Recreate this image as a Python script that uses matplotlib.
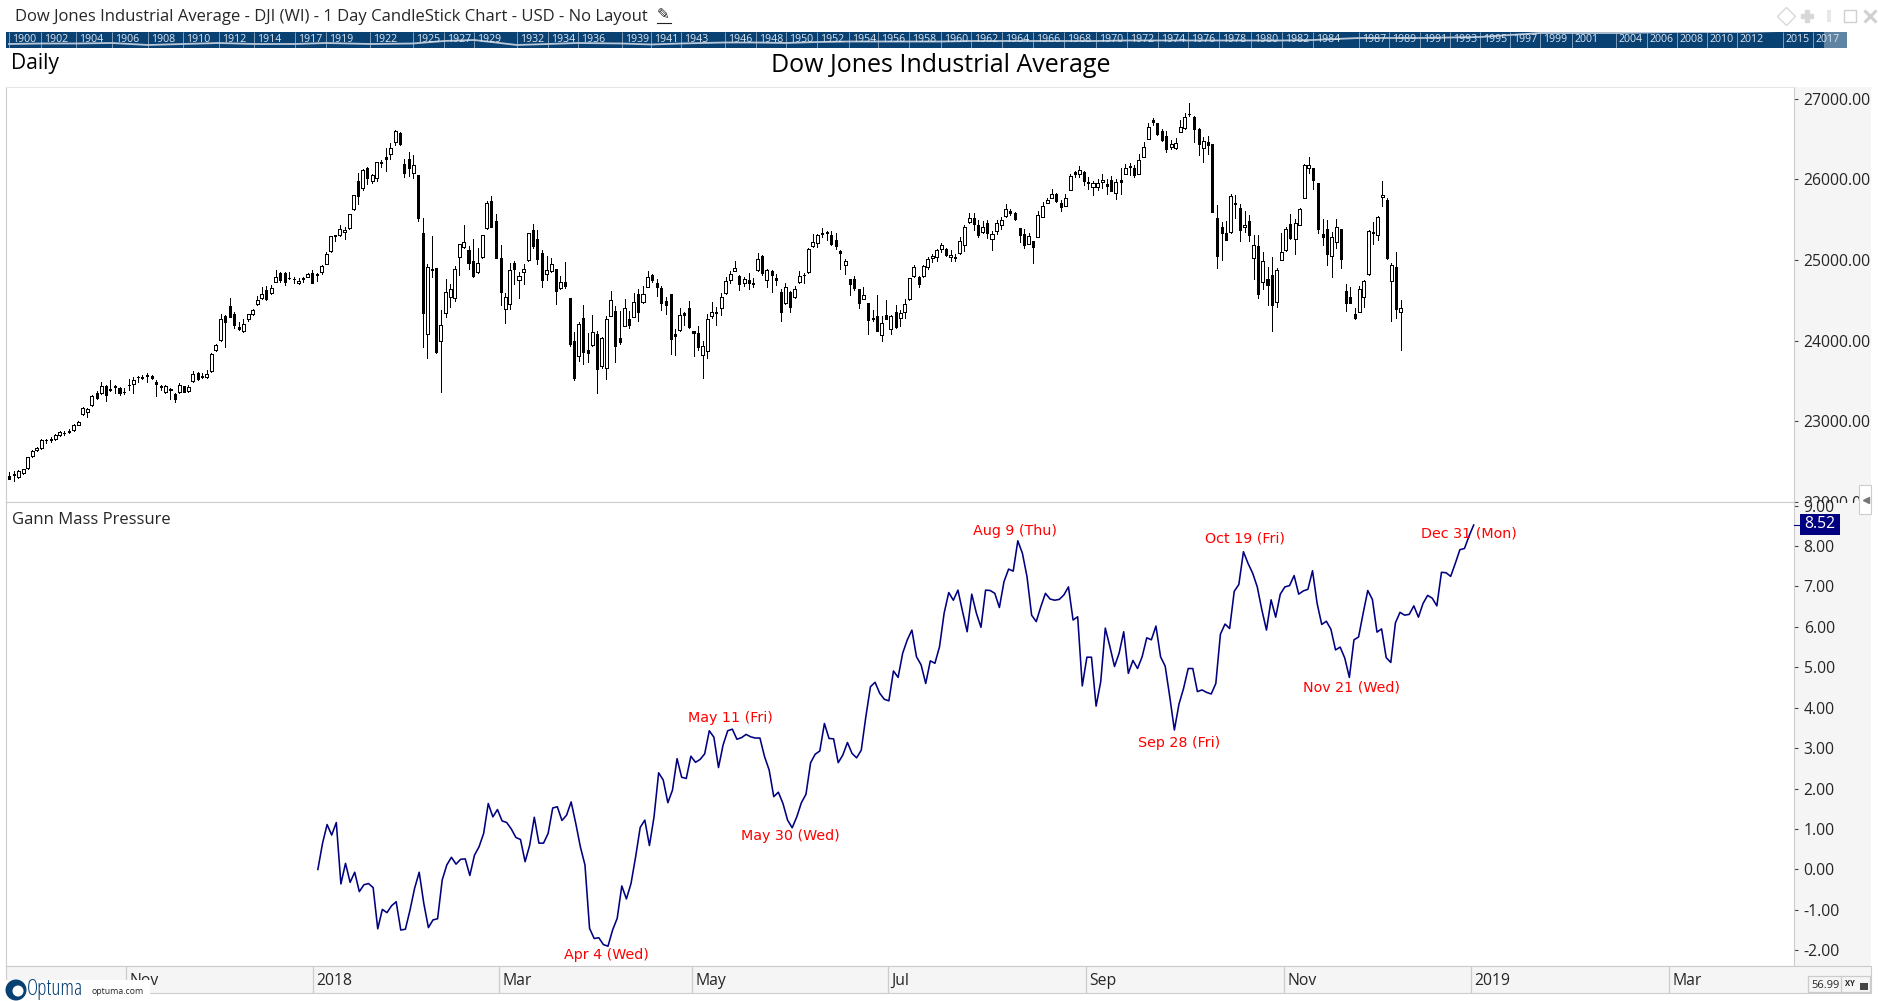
#! /usr/bin/env python3

import numpy as np
import matplotlib
matplotlib.use("Agg")
import matplotlib.pyplot as plt
from matplotlib.patches import Rectangle, Circle

W, H = 1878, 1001

opens = [
 22318, 22343, 22302, 22351, 22413, 22562, 22637, 22662, 22769, 22774, 22782, 22823, 22856, 22873, 22885, 22951,
 23088, 23109, 23196, 23345, 23345, 23436, 23394, 23436, 23411, 23366, 23452, 23457, 23552, 23548, 23572, 23560,
 23486, 23436, 23357, 23382, 23336, 23357, 23432, 23370, 23494, 23593, 23560, 23544, 23618, 23879, 24003, 24305,
 24425, 24330, 24165, 24115, 24264, 24334, 24450, 24525, 24624, 24587, 24732, 24835, 24835, 24781, 24769, 24711,
 24773, 24794, 24843, 24823, 24848, 24955, 25108, 25307, 25307, 25344, 25394, 25630, 25982, 25899, 26139, 25978,
 26015, 26218, 26276, 26313, 26462, 26578, 26193, 26259, 26077, 26052, 25332, 24078, 24889, 24897, 23991, 24338,
 24537, 24533, 25042, 25158, 25125, 24984, 24848, 25042, 25394, 25729, 25481, 25022, 24388, 24458, 24959, 24748,
 24848, 24997, 25369, 25257, 25084, 24831, 24868, 24885, 24649, 24723, 24525, 23991, 23813, 24276, 23879, 23941,
 24078, 23688, 23655, 24309, 24363, 24028, 24185, 24264, 24297, 24574, 24475, 24670, 24810, 24715, 24653, 24487,
 24574, 24078, 24127, 24338, 24400, 24115, 24094, 23825, 23866, 24309, 24351, 24400, 24587, 24748, 24868, 24806,
 24719, 24748, 24715, 24872, 25050, 24748, 24868, 24777, 24599, 24463, 24608, 24537, 24723, 24819, 24848, 25179,
 25208, 25332, 25349, 25315, 25245, 25113, 24935, 24761, 24761, 24636, 24521, 24463, 24280, 24301, 24065, 24314,
 24148, 24351, 24276, 24351, 24512, 24798, 24790, 24798, 24918, 25022, 25034, 25133, 25133, 25034, 25034, 25084,
 25183, 25469, 25518, 25431, 25344, 25456, 25258, 25357, 25431, 25543, 25605, 25580, 25394, 25320, 25204, 25233,
 25291, 25539, 25713, 25775, 25816, 25705, 25676, 25874, 26090, 26073, 26094, 25970, 25912, 25912, 25965, 25945,
 25994, 25837, 25994, 26073, 26168, 26148, 26073, 26284, 26508, 26735, 26698, 26603, 26541, 26408, 26396, 26595,
 26644, 26818, 26773, 26624, 26396, 26466, 26437, 25518, 25406, 25332, 25344, 25705, 25642, 25415, 25481, 25030,
 25171, 24732, 24765, 24810, 24475, 25005, 25129, 25444, 25258, 25440, 25775, 26139, 26139, 25953, 25320, 25382,
 25055, 25228, 25382, 24612, 24537, 24326, 24359, 24545, 24823, 25344, 25307, 25779, 25742, 24736, 24910, 24351,
]
highs = [
 22368, 22384, 22393, 22409, 22558, 22641, 22682, 22774, 22778, 22798, 22840, 22873, 22881, 22898, 22964, 22997, 23171,
 23158, 23324, 23374, 23486, 23452, 23510, 23448, 23428, 23407, 23519, 23544, 23560, 23568, 23593, 23572, 23510,
 23448, 23448, 23407, 23353, 23477, 23440, 23452, 23626, 23606, 23593, 23635, 23842, 23957, 24330, 24318, 24529,
 24355, 24235, 24264, 24334, 24388, 24554, 24665, 24674, 24686, 24877, 24852, 24848, 24852, 24785, 24781, 24794,
 24843, 24877, 24843, 24939, 25096, 25303, 25311, 25431, 25415, 25572, 25808, 26077, 26127, 26152, 26069, 26218,
 26243, 26396, 26450, 26615, 26595, 26251, 26342, 26301, 26056, 25522, 24951, 25299, 24906, 24380, 24765, 24703,
 24926, 25200, 25435, 25175, 25262, 25150, 25311, 25734, 25796, 25572, 25187, 24595, 24959, 24984, 24852, 24951,
 25336, 25448, 25373, 25125, 25051, 25022, 24893, 24798, 24976, 24529, 24107, 24235, 24442, 24098, 24318, 24119,
 24040, 24305, 24612, 24425, 24367, 24512, 24367, 24591, 24637, 24678, 24860, 24827, 24765, 24674, 24541, 24579,
 24144, 24400, 24355, 24492, 24119, 24181, 23991, 24326, 24479, 24417, 24587, 24785, 24860, 24984, 24810, 24794,
 24839, 24777, 25084, 25059, 24885, 24877, 24827, 24637, 24715, 24612, 24678, 24860, 24835, 25146, 25320, 25320,
 25398, 25361, 25361, 25332, 25125, 25013, 24765, 24802, 24641, 24665, 24467, 24380, 24562, 24305, 24504, 24314,
 24442, 24380, 24516, 24777, 24939, 24806, 24939, 25034, 25075, 25142, 25208, 25146, 25125, 25075, 25286, 25431,
 25585, 25580, 25493, 25485, 25498, 25365, 25493, 25535, 25696, 25630, 25597, 25394, 25382, 25332, 25237, 25605,
 25721, 25767, 25883, 25829, 25746, 25816, 26069, 26110, 26168, 26102, 26032, 25982, 26003, 26069, 26007, 26044,
 26003, 26139, 26189, 26201, 26177, 26313, 26462, 26698, 26764, 26707, 26624, 26599, 26491, 26516, 26740, 26822,
 26951, 26789, 26644, 26524, 26541, 26441, 25680, 25473, 25481, 25816, 25804, 25696, 25605, 25556, 25311, 25307,
 25096, 24910, 25034, 24897, 25332, 25406, 25572, 25506, 25642, 26189, 26280, 26148, 25961, 25506, 25493, 25349,
 25506, 25382, 24703, 24665, 24400, 24678, 24748, 25369, 25473, 25543, 25982, 25767, 24959, 25096, 24504,
]
lows = [
 22285, 22260, 22293, 22343, 22409, 22558, 22633, 22658, 22732, 22740, 22765, 22819, 22823, 22856, 22877, 22947,
 23080, 23055, 23192, 23274, 23341, 23250, 23378, 23353, 23324, 23336, 23386, 23353, 23490, 23527, 23486, 23519,
 23316, 23386, 23353, 23279, 23237, 23353, 23361, 23366, 23490, 23510, 23539, 23539, 23614, 23875, 23999, 23924,
 24293, 24160, 24131, 24111, 24239, 24318, 24446, 24512, 24504, 24583, 24728, 24728, 24694, 24769, 24711, 24707,
 24728, 24790, 24715, 24740, 24827, 24951, 25104, 25241, 25303, 25266, 25390, 25626, 25696, 25870, 25945, 25953,
 25978, 26152, 26106, 26251, 26433, 26433, 26036, 26044, 26019, 25489, 23924, 23788, 24794, 23850, 23365, 24297,
 24421, 24492, 24815, 25154, 24889, 24790, 24843, 25026, 25390, 25411, 25026, 24442, 24222, 24392, 24703, 24529,
 24703, 24992, 25154, 24955, 24665, 24752, 24852, 24458, 24645, 24657, 23937, 23515, 23750, 23713, 23738, 23937,
 23353, 23664, 23527, 24305, 23738, 23962, 24181, 24160, 24293, 24247, 24471, 24665, 24728, 24558, 24380, 24330,
 23833, 23821, 24123, 24193, 24156, 23808, 23887, 23539, 23788, 24276, 24193, 24322, 24583, 24719, 24864, 24628,
 24678, 24641, 24670, 24868, 24819, 24665, 24608, 24690, 24243, 24458, 24355, 24533, 24719, 24719, 24843, 25166,
 25162, 25291, 25249, 25187, 25142, 24893, 24831, 24570, 24628, 24405, 24516, 24082, 24247, 24119, 23995, 24268,
 24082, 24160, 24181, 24280, 24508, 24794, 24670, 24794, 24893, 24976, 24988, 25104, 25055, 24988, 24988, 25079,
 25113, 25464, 25373, 25291, 25340, 25274, 25125, 25328, 25390, 25539, 25560, 25502, 25229, 25150, 25200, 24964,
 25286, 25531, 25709, 25771, 25721, 25609, 25671, 25870, 26032, 26028, 25936, 25887, 25804, 25866, 25891, 25816,
 25854, 25763, 25821, 26069, 26061, 26032, 26069, 26280, 26504, 26682, 26557, 26483, 26342, 26375, 26379, 26591,
 26628, 26789, 26466, 26305, 26218, 26317, 25597, 24906, 25001, 25249, 25340, 25518, 25237, 25349, 25241, 24765,
 24529, 24641, 24442, 24123, 24417, 25001, 25113, 25266, 25075, 25435, 25771, 26081, 25883, 25336, 25187, 24939,
 24790, 25150, 24901, 24367, 24467, 24268, 24355, 24413, 24819, 25200, 25249, 25671, 25013, 24247, 24281, 23887,
]
closes = [
 22285, 22326, 22376, 22401, 22550, 22633, 22666, 22769, 22761, 22765, 22823, 22869, 22848, 22865, 22951, 22993,
 23158, 23154, 23316, 23283, 23436, 23328, 23382, 23419, 23353, 23357, 23444, 23506, 23544, 23531, 23564, 23535,
 23465, 23428, 23432, 23403, 23279, 23452, 23366, 23428, 23581, 23527, 23544, 23581, 23833, 23941, 24264, 24235,
 24297, 24189, 24148, 24202, 24326, 24376, 24500, 24574, 24512, 24649, 24785, 24752, 24732, 24773, 24761, 24736,
 24761, 24831, 24719, 24810, 24922, 25071, 25295, 25295, 25382, 25369, 25568, 25804, 25800, 26114, 26023, 26061,
 26214, 26210, 26259, 26388, 26607, 26446, 26085, 26148, 26177, 25527, 24347, 24910, 24881, 23862, 24189, 24599,
 24636, 24885, 25195, 25220, 24968, 24802, 24959, 25307, 25705, 25415, 25030, 24608, 24537, 24872, 24893, 24798,
 24885, 25332, 25179, 25009, 24757, 24872, 24947, 24620, 24723, 24682, 23962, 23539, 24202, 23862, 23850, 24102,
 23651, 24028, 24264, 24500, 23937, 23987, 24400, 24198, 24475, 24359, 24574, 24785, 24752, 24670, 24471, 24446,
 24024, 24061, 24314, 24314, 24169, 24098, 23920, 23929, 24264, 24351, 24338, 24537, 24736, 24823, 24897, 24707,
 24761, 24719, 24699, 25009, 24843, 24881, 24819, 24757, 24359, 24661, 24421, 24636, 24806, 24810, 25142, 25229,
 25307, 25324, 25332, 25204, 25179, 25092, 24984, 24707, 24649, 24471, 24570, 24260, 24268, 24123, 24214, 24272,
 24301, 24169, 24347, 24450, 24773, 24910, 24707, 24922, 25009, 25055, 25121, 25191, 25067, 25059, 25026, 25233,
 25406, 25518, 25448, 25315, 25406, 25340, 25320, 25456, 25493, 25630, 25585, 25514, 25315, 25191, 25295, 25166,
 25556, 25667, 25750, 25816, 25738, 25663, 25775, 26040, 26073, 26114, 25986, 25957, 25953, 25961, 25990, 25924,
 25858, 25965, 25974, 26139, 26160, 26056, 26239, 26400, 26648, 26719, 26570, 26491, 26379, 26437, 26450, 26648,
 26773, 26810, 26632, 26446, 26483, 26433, 25601, 25055, 25340, 25253, 25792, 25696, 25378, 25440, 25315, 25183,
 24583, 24984, 24694, 24446, 24872, 25104, 25382, 25278, 25456, 25630, 26177, 26185, 25994, 25390, 25291, 25079,
 25282, 25406, 25017, 24471, 24471, 24280, 24636, 24744, 25357, 25336, 25531, 25812, 25030, 24943, 24396, 24409,
]

gann = [
 0.00, 0.64, 1.11, 0.85, 1.16, -0.36, 0.15, -0.32, -0.07, -0.55, -0.38, -0.35, -0.45, -1.47, -0.99, -1.07, -0.90, -0.80,
 -1.50, -1.48, -1.01, -0.47, -0.07, -0.84, -1.44, -1.25, -1.22, -0.26, 0.11, 0.30, 0.13, 0.25, 0.26, -0.15, 0.35, 0.56,
 0.89, 1.63, 1.30, 1.48, 1.20, 1.16, 1.00, 0.79, 0.74, 0.19, 0.60, 1.29, 0.65, 0.65, 0.89, 1.52, 1.55, 1.21, 1.34, 1.67,
 1.14, 0.56, 0.11, -1.46, -1.71, -1.69, -1.86, -1.90, -1.50, -1.21, -0.41, -0.73, -0.35, 0.31, 1.04, 1.22, 0.59, 1.30,
 2.39, 2.21, 1.65, 1.96, 2.74, 2.28, 2.25, 2.80, 2.65, 2.72, 2.86, 3.43, 3.27, 2.52, 3.08, 3.43, 3.47, 3.22, 3.26, 3.34,
 3.28, 3.25, 3.25, 2.79, 2.46, 1.80, 1.91, 1.63, 1.22, 1.03, 1.30, 1.65, 1.86, 2.64, 2.85, 2.93, 3.61, 3.24, 3.23, 2.64,
 2.83, 3.14, 2.87, 2.76, 2.95,
 3.78, 4.52, 4.63, 4.36, 4.21, 4.17, 4.91, 4.75, 5.35, 5.68, 5.92, 5.26, 5.06, 4.60, 5.16, 5.10, 5.51, 6.34, 6.85, 6.66,
 6.91, 6.38, 5.88, 6.81, 6.34, 5.99, 6.91, 6.90, 6.83, 6.48, 7.12, 7.43, 7.38, 8.13, 7.82, 7.24, 6.29, 6.13, 6.50, 6.83,
 6.69, 6.66, 6.68, 6.79, 6.99, 6.17, 6.25, 4.54, 5.25, 5.25, 4.04, 4.64, 5.97, 5.51, 5.02, 5.35, 5.88, 4.85, 5.17, 4.97,
 5.26, 5.73, 5.68, 6.02, 5.26, 5.03, 4.27, 3.45, 4.09, 4.48, 4.97, 4.97, 4.40, 4.44, 4.38, 4.34, 4.60, 5.82, 6.07, 5.96,
 6.88, 7.05, 7.86, 7.57, 7.33, 6.99, 6.42, 5.92, 6.67, 6.24, 6.81, 6.99, 7.02, 7.27, 6.81, 6.89, 6.93, 7.39, 6.58, 6.06,
 6.14, 5.94, 5.43, 5.50, 5.23, 4.75, 5.68, 5.75, 6.34, 6.90, 6.68, 5.87, 5.95, 5.24, 5.12, 6.10, 6.36, 6.29, 6.31, 6.52,
 6.24, 6.58, 6.78, 6.71, 6.52, 7.35, 7.34, 7.25, 7.57, 7.91, 7.94, 8.25, 8.52,
]
gann_start, gann_end = 67.2, 318.9

notes = ["Apr 4 (Wed)", "May 11 (Fri)", "May 30 (Wed)", "Aug 9 (Thu)", "Sep 28 (Fri)", "Oct 19 (Fri)", "Nov 21 (Wed)", "Dec 31 (Mon)"]
note_x = [130.0, 157.1, 170.0, 219.1, 254.7, 269.1, 292.2, 317.9]
note_y = [-2.12, 3.74, 0.82, 8.38, 3.13, 8.18, 4.49, 8.30]

date_labels = ["Nov", "2018", "Mar", "May", "Jul", "Sep", "Nov", "2019", "Mar"]
date_ticks = [25.4, 66.1, 106.6, 148.6, 191.4, 234.5, 277.6, 318.3, 361.4]

price_ticks = [27000, 26000, 25000, 24000, 23000, 22000]
gann_ticks = [9, 8, 7, 6, 5, 4, 3, 2, 1, 0, -1, -2]

years = [1900, 1902, 1904, 1906, 1908, 1910, 1912, 1914, 1917, 1919, 1922, 1925, 1927, 1929, 1932, 1934, 1936, 1939,
         1941, 1943, 1946, 1948, 1950, 1952, 1954, 1956, 1958, 1960, 1962, 1964, 1966, 1968, 1970, 1972, 1974, 1976,
         1978, 1980, 1982, 1984, 1987, 1989, 1991, 1993, 1995, 1997, 1999, 2001, 2004, 2006, 2008, 2010, 2012, 2015, 2017]
year_pos = [9, 41, 76, 112, 148, 183, 219, 254, 295, 326, 370, 413, 444, 474, 517, 548, 578, 622,
            651, 681, 725, 756, 786, 817, 849, 878, 909, 941, 971, 1002, 1033, 1064, 1096, 1127, 1158, 1188,
            1219, 1251, 1282, 1313, 1359, 1389, 1420, 1450, 1480, 1510, 1540, 1572, 1616, 1647, 1677, 1707, 1737, 1783, 1813]
history = [4, 4.5, 4.5, 5, 3, 4, 5, 4, 4, 5, 4, 4.5, 7, 8, 3, 4, 5, 4.5,
           3.5, 4.5, 5.5, 5.5, 5, 6, 6.5, 6.5, 6.5, 6.5, 7, 7, 7, 7, 7, 7.5, 7.5, 7.5,
           7.5, 7.5, 7.5, 8, 10, 10, 10, 10.5, 11, 13, 15, 15, 15, 15.5, 16, 16, 16, 17, 18]

plt.rcParams["font.family"] = ["Open Sans", "DejaVu Sans"]
NAVY = "#000080"
EDGE = "#cccccc"
PANEL = "#f5f5f5"
TEXT = "#262626"


def box(left, top, right, bottom, **kwargs):
    ax = fig.add_axes([left / W, 1 - bottom / H, (right - left) / W, (bottom - top) / H], **kwargs)
    return ax


def rect(left, top, right, bottom, color, zorder):
    fig.add_artist(Rectangle((left / W, 1 - bottom / H), (right - left) / W, (bottom - top) / H,
                             transform=fig.transFigure, facecolor=color, edgecolor="none", zorder=zorder))


fig = plt.figure(figsize=(W / 100, H / 100), dpi=100)

bar_step = 4.592
bar_zero = 9.3
xlim = [(6 - bar_zero) / bar_step, (1794 - bar_zero) / bar_step]

rect(1794, 87, 1871, 502, PANEL, -1)

# Candles
ax = box(6, 87, 1794, 502, zorder=1)
bars = np.arange(len(opens))
o, h, l, c = map(np.array, (opens, highs, lows, closes))
ax.vlines(bars, l, h, color="black", linewidth=0.72, antialiased=False, zorder=2)
up = c >= o
ax.bar(bars[up], (c - o)[up], bottom=o[up], width=0.66, facecolor="white", edgecolor="black", linewidth=0.72,
       antialiased=False, zorder=3)
ax.bar(bars[~up], (o - c)[~up], bottom=c[~up], width=0.44, facecolor="black", edgecolor="black", linewidth=0.72,
       antialiased=False, zorder=3)
ax.set_xlim(xlim)
ax.set_ylim(21994, 27149)
ax.set_xticks([])
ax.yaxis.tick_right()
ax.set_yticks(price_ticks)
ax.set_yticklabels(["%.2f" % v for v in price_ticks], fontsize=11.3, color=TEXT)
ax.tick_params(axis="y", length=3, width=0.8, color="#444444", pad=4)
for side in ax.spines:
    ax.spines[side].set_color(EDGE)
ax.spines["top"].set_color("#e6e6e6")

rect(1794, 503, 1871, 966, PANEL, 1.5)

# Gann line
ax = box(6, 502, 1794, 966, zorder=2)
ax.plot(np.linspace(gann_start, gann_end, len(gann)), gann, color=NAVY, linewidth=1.15)
for text, x, y in zip(notes, note_x, note_y):
    ax.text(x, y, text, color="red", fontsize=10.3, ha="center", va="center", family="DejaVu Sans")
ax.set_xlim(xlim)
ax.set_ylim(-2.39, 9.09)
ax.set_xticks([])
ax.yaxis.tick_right()
ax.set_yticks(gann_ticks)
ax.set_yticklabels(["%.2f" % v for v in gann_ticks], fontsize=11.3, color=TEXT)
ax.tick_params(axis="y", length=3, width=0.8, color="#444444", pad=4)
for side in ax.spines:
    ax.spines[side].set_color(EDGE)

# Date bar
ax = box(6, 966, 1871, 993, zorder=2, facecolor=PANEL)
ax.set_xlim(xlim[0], (1871 - bar_zero) / bar_step)
ax.set_ylim(0, 1)
ax.vlines(date_ticks, 0, 1, color=EDGE, linewidth=0.9)
for text, x in zip(date_labels, date_ticks):
    ax.annotate(text, (x, 0.46), xytext=(2.5, 0), textcoords="offset points", fontsize=11.3, color=TEXT, va="center")
ax.set_xticks([])
ax.set_yticks([])
for side in ax.spines:
    ax.spines[side].set_color(EDGE)

# History strip
ax = box(6, 32, 1847, 48, zorder=2, facecolor="#0a4173")
ax.set_xlim(6, 1847)
ax.set_ylim(0, 16)
ax.vlines(year_pos, 0, 16, color="#7f9ebb", linewidth=0.7)
for year, x in zip(years, year_pos):
    ax.text(x + 3, 8, str(year), color="#dde6ee", fontsize=7.6, va="center")
ax.plot(year_pos, history, color="#b9c8d8", linewidth=1.3)
ax.axvspan(1824, 1847, color="#ffffff", alpha=0.35, linewidth=0)
ax.set_xticks([])
ax.set_yticks([])
for side in ax.spines:
    ax.spines[side].set_visible(False)

# Window furniture and labels drawn in pixel coordinates
ui = fig.add_axes([0, 0, 1, 1], zorder=5)
ui.set_xlim(0, W)
ui.set_ylim(H, 0)
ui.axis("off")
ui.text(15, 17, "Dow Jones Industrial Average - DJI (WI) - 1 Day CandleStick Chart - USD - No Layout",
        fontsize=12, color=TEXT, va="center")
ui.text(657, 15, "\u270e", fontsize=11, color="#222222", va="center", family="DejaVu Sans")
ui.plot([657, 671], [23, 23], color="#222222", linewidth=0.8)
ui.text(11, 63, "Daily", fontsize=15.1, color="black", va="center")
ui.text(940.5, 66, "Dow Jones Industrial Average", fontsize=18, color="black", ha="center", va="center")
ui.text(12, 520, "Gann Mass Pressure", fontsize=12, color=TEXT, va="center")
ui.plot([1786], [16], marker="D", markersize=9, markerfacecolor="none", markeredgecolor="#d8d8d8", markeredgewidth=1)
ui.plot([1807], [16], marker="P", markersize=8, color="#d8d8d8")
ui.plot([1829], [16], marker="|", markersize=9, color="#e8e8e8", markeredgewidth=3)
ui.plot([1850], [16], marker="s", markersize=8, markerfacecolor="none", markeredgecolor="#d0d0d0")
ui.plot([1870], [16], marker="x", markersize=8, markeredgecolor="#d0d0d0", markeredgewidth=2.2)

ui.plot([1794, 1800], [524.5, 524.5], color=NAVY, linewidth=0.8)
ui.add_patch(Rectangle((1800, 514), 40, 21, facecolor=NAVY, edgecolor="none"))
ui.text(1820, 524.5, "8.52", color="white", fontsize=11.3, ha="center", va="center")

ui.add_patch(Rectangle((1859, 485), 12, 29, facecolor="white", edgecolor=EDGE, linewidth=0.8))
ui.plot([1866], [500], marker="<", markersize=5, color="#777777")

ui.add_patch(Rectangle((4, 980), 146, 21, facecolor="white", edgecolor="none"))
ui.add_patch(Circle((16, 990), 10.5, facecolor="#0a4173", edgecolor="none"))
ui.add_patch(Circle((18, 991), 5.5, facecolor="white", edgecolor="none"))
ui.text(27, 989, "Optuma", fontsize=15.5, color="#0a4173", va="center", stretch="condensed")
ui.text(91, 992, "optuma.com", fontsize=6.3, color=TEXT, va="center")

ui.add_patch(Rectangle((1808, 976), 62, 16, facecolor=PANEL, edgecolor=EDGE, linewidth=0.9))
ui.plot([1841, 1841], [976, 992], color=EDGE, linewidth=0.9)
ui.text(1811, 985, "56.99", fontsize=8, color=TEXT, va="center")
ui.text(1845, 984, "XY", fontsize=5.5, color=TEXT, va="center", weight="bold")
ui.add_patch(Rectangle((1860, 983), 8, 7, facecolor="#444444", edgecolor="none"))

fig.savefig("out.png", dpi=100)
